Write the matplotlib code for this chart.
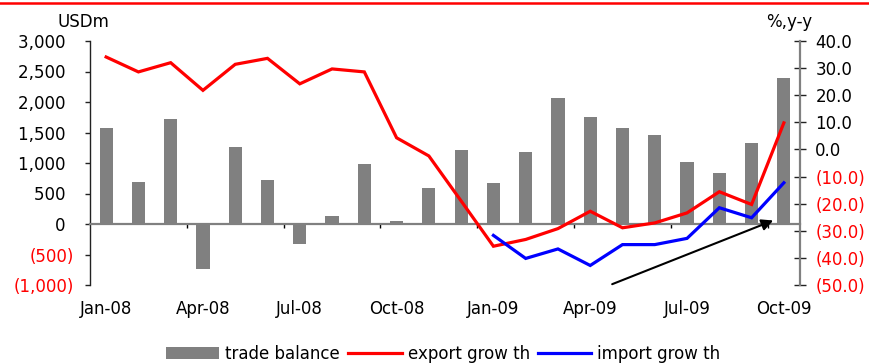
import matplotlib
matplotlib.use("Agg")
import matplotlib.pyplot as plt
from matplotlib.lines import Line2D
from matplotlib.patches import Patch
import numpy as np

# Monthly trade data, Jan-08 .. Oct-09
months = ["Jan-08", "Feb-08", "Mar-08", "Apr-08", "May-08", "Jun-08",
          "Jul-08", "Aug-08", "Sep-08", "Oct-08", "Nov-08", "Dec-08",
          "Jan-09", "Feb-09", "Mar-09", "Apr-09", "May-09", "Jun-09",
          "Jul-09", "Aug-09", "Sep-09", "Oct-09"]
trade_balance = [1575, 690, 1720, -730, 1260, 720, -330, 130, 980, 50, 590, 1210,
                 670, 1180, 2060, 1750, 1570, 1460, 1020, 840, 1330, 2400]
export_growth = [34.1, 28.6, 32.0, 21.8, 31.4, 33.6, 24.2, 29.7, 28.6, 4.3, -2.4, -19.0,
                 -35.7, -33.2, -29.2, -22.8, -28.9, -27.1, -23.4, -15.6, -20.3, 9.8]
import_growth = [np.nan] * 12 + [-31.7, -40.2, -36.7, -42.8, -35.1, -35.1,
                                 -32.8, -21.5, -25.2, -12.3]
left_ticks = [-1000, -500, 0, 500, 1000, 1500, 2000, 2500, 3000]
right_ticks = [-50, -40, -30, -20, -10, 0, 10, 20, 30, 40]
label_months = ["Jan-08", "Apr-08", "Jul-08", "Oct-08",
                "Jan-09", "Apr-09", "Jul-09", "Oct-09"]

plt.rcParams['font.family'] = ['DejaVu Sans']
plt.rcParams['font.size'] = 12

W, H = 869, 364
fig = plt.figure(figsize=(W / 100, H / 100), dpi=100)
ax = fig.add_axes([90 / W, 79 / H, 710 / W, 244 / H])

x = np.arange(len(months))
ax.bar(x, trade_balance, width=0.41, color='#808080', zorder=2)
ax.set_xlim(-0.5, len(months) - 0.5)
ax.set_ylim(-1000, 3000)

# category axis sits on the zero line
for s in ('top', 'right'):
    ax.spines[s].set_visible(False)
ax.spines['bottom'].set_position(('data', 0))
ax.spines['bottom'].set_color('#808080')
ax.spines['bottom'].set_linewidth(1.6)
ax.spines['bottom'].set_zorder(3)
ax.spines['left'].set_color('#222222')
ax.spines['left'].set_linewidth(1.0)

idx = {m: i for i, m in enumerate(months)}
ax.set_xticks([i + 2.5 for i in range(0, 21, 3)])
ax.set_xticklabels([])
ax.tick_params(axis='x', which='major', direction='out', length=3, width=1, color='black')
ax.set_xticks([idx[m] for m in label_months], minor=True)
ax.set_xticklabels(label_months, minor=True)
ax.tick_params(axis='x', which='minor', length=0, pad=55)

def fmt_left(v):
    s = f"{abs(v):,}"
    return f"({s})" if v < 0 else s + "\u2002"

ax.set_yticks(left_ticks)
ax.set_yticklabels([fmt_left(v) for v in left_ticks])
ax.tick_params(axis='y', direction='out', length=3.6, width=1, pad=8, color='#222222')
for lab, v in zip(ax.get_yticklabels(), left_ticks):
    lab.set_color('#ff0000' if v < 0 else 'black')

ax2 = ax.twinx()
ax2.plot(x, export_growth, color='#ff0000', lw=2.3, solid_joinstyle='miter')
ax2.plot(x, import_growth, color='#0000ff', lw=2.3, solid_joinstyle='miter')
ax2.set_ylim(-50, 40)
for s in ('top', 'bottom', 'left'):
    ax2.spines[s].set_visible(False)
ax2.spines['right'].set_color('#808080')
ax2.spines['right'].set_linewidth(1.6)

def fmt_right(v):
    return f"({abs(v):.1f})" if v < 0 else f"{v:.1f}"

ax2.set_yticks(right_ticks)
ax2.set_yticklabels([fmt_right(v) for v in right_ticks])
ax2.tick_params(axis='y', direction='inout', length=8, width=1, pad=7, color='#222222')
for lab, v in zip(ax2.get_yticklabels(), right_ticks):
    lab.set_color('#ff0000' if v < 0 else 'black')

# trend arrow
ax2.annotate('', xy=(20.67, -26.2), xytext=(15.68, -49.7),
             arrowprops=dict(arrowstyle='-|>', color='black', lw=1.5,
                             mutation_scale=17, shrinkA=0, shrinkB=0),
             annotation_clip=False)

fig.text(83 / W, 1 - 22 / H, "USDm", ha='center', va='center', fontsize=12)
fig.text(789 / W, 1 - 22 / H, "%,y-y", ha='center', va='center', fontsize=12)

# red rule along the top edge
fig.add_artist(Line2D([0, 1], [1 - 3 / H, 1 - 3 / H], transform=fig.transFigure,
                      color='#ff0000', lw=1.8))

handles = [Patch(facecolor='#808080', edgecolor='none'),
           Line2D([], [], color='#ff0000', lw=2.3),
           Line2D([], [], color='#0000ff', lw=2.3)]
labels = ["trade balance", "export grow th", "import grow th"]
fig.legend(handles, labels, loc='center', bbox_to_anchor=(0.51, 10 / H), ncol=3,
           frameon=False, handlelength=3.2, handletextpad=0.35, columnspacing=0.5,
           borderpad=0, borderaxespad=0)

fig.savefig("out.png", dpi=100)
